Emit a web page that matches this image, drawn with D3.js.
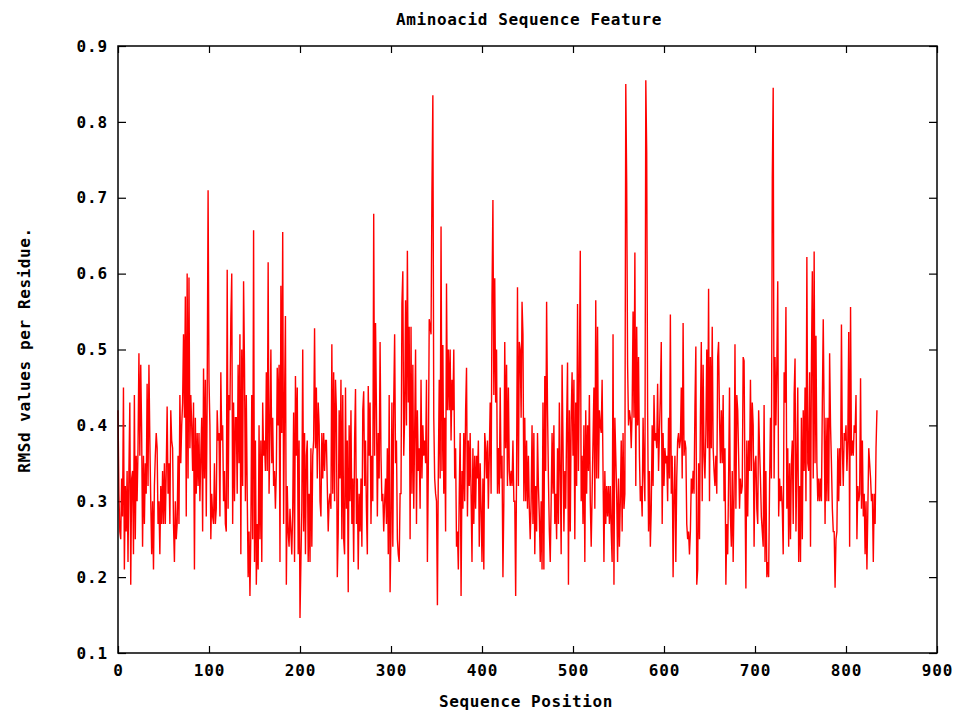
<!DOCTYPE html>
<html><head><meta charset="utf-8">
<script src="https://cdn.jsdelivr.net/npm/d3@7"></script>
<style>body{margin:0;background:#fff}svg{display:block}</style>
</head><body>
<svg id="chart" width="973" height="714"></svg>
<script>
const titleText = "Aminoacid Sequence Feature";
const xLabelText = "Sequence Position";
const yLabelText = "RMSd values per Residue.";
const xTickValues = [0, 100, 200, 300, 400, 500, 600, 700, 800, 900];
const yTickValues = [0.1, 0.2, 0.3, 0.4, 0.5, 0.6, 0.7, 0.8, 0.9];

// RMSd value per residue, residue index 0..834
const rmsdValues = [
0.42,0.31,0.26,0.25,0.33,0.28,0.45,0.21,0.32,0.26,
0.34,0.22,0.34,0.43,0.19,0.33,0.34,0.23,0.44,0.25,
0.36,0.30,0.37,0.495,0.36,0.48,0.39,0.24,0.36,0.27,
0.35,0.31,0.455,0.32,0.48,0.38,0.30,0.23,0.30,0.21,
0.32,0.36,0.39,0.37,0.27,0.30,0.23,0.32,0.27,0.34,
0.27,0.35,0.27,0.34,0.425,0.31,0.35,0.27,0.42,0.38,
0.37,0.27,0.22,0.30,0.25,0.27,0.36,0.27,0.44,0.35,
0.40,0.43,0.52,0.41,0.57,0.28,0.60,0.33,0.595,0.37,
0.44,0.40,0.34,0.43,0.21,0.41,0.31,0.39,
0.32,0.39,0.30,0.36,0.41,0.26,0.475,0.33,0.46,0.28,
0.44,0.71,0.46,0.40,0.25,0.31,0.28,0.27,0.35,0.27,
0.29,0.42,0.38,0.39,0.28,0.47,0.38,0.40,0.30,0.34,
0.27,0.26,0.605,0.29,0.44,0.42,0.54,0.60,0.27,0.43,
0.30,0.41,0.41,0.31,0.48,0.35,0.52,0.23,0.50,0.32,
0.59,0.48,0.30,0.44,0.31,0.20,0.26,0.175,0.26,0.44,
0.25,0.657,0.22,0.38,0.19,0.27,0.21,0.40,0.25,0.38,
0.22,0.43,0.36,0.38,0.34,0.47,0.34,0.615,0.31,0.39,
0.50,0.35,0.41,0.32,0.34,0.29,
0.34,0.476,0.40,0.48,0.22,0.584,0.39,0.655,0.27,0.43,
0.544,0.19,0.32,0.26,0.24,0.29,0.26,0.23,0.29,0.417,
0.22,0.465,0.36,0.45,0.23,0.38,0.146,0.22,0.29,0.50,
0.26,0.39,0.23,0.36,0.38,0.22,0.31,0.22,0.37,0.24,
0.36,0.38,0.528,0.37,0.45,0.33,0.43,0.40,0.30,0.28,
0.39,0.33,0.39,0.34,0.38,0.38,0.32,0.26,0.30,0.31,
0.29,0.507,0.31,0.47,0.30,0.46,0.42,0.20,0.26,0.42,
0.33,0.46,0.25,0.44,0.25,0.23,0.45,0.29,0.38,0.18,
0.40,0.30,
0.42,0.27,0.33,0.22,0.38,0.448,0.27,0.33,0.21,0.31,
0.26,0.33,0.24,0.42,0.445,0.32,0.38,0.29,0.23,0.452,
0.36,0.43,0.27,0.36,0.30,0.679,0.36,0.535,0.42,0.28,
0.39,0.33,0.51,0.36,0.30,0.31,0.26,0.30,0.33,0.27,
0.37,0.23,0.44,0.18,0.26,0.43,0.24,0.43,0.52,0.35,
0.38,0.25,0.23,0.22,0.31,0.31,0.56,0.603,0.36,0.41,
0.565,0.40,0.63,0.43,0.53,0.25,0.53,0.31,0.48,0.29,
0.39,0.50,0.27,0.42,0.34,0.37,0.29,0.46,0.33,0.40,
0.36,0.38,0.35,0.46,0.22,0.34,0.54,0.53,0.52,0.71,
0.835,0.41,0.33,0.31,
0.30,0.163,0.34,0.46,0.33,0.662,0.34,0.506,0.31,0.41,
0.26,0.587,0.42,0.50,0.42,0.50,0.38,0.46,0.42,0.50,
0.33,0.37,0.24,0.26,0.21,0.31,0.39,0.175,0.34,0.29,
0.39,0.30,0.42,0.476,0.28,0.38,0.32,0.39,0.31,0.22,
0.37,0.27,0.36,0.29,0.36,0.33,0.38,0.24,0.35,0.29,
0.22,0.33,0.21,0.39,0.37,0.33,0.38,0.29,0.36,0.43,
0.31,0.57,0.697,0.44,0.594,0.43,0.50,0.31,0.37,0.31,
0.45,0.33,0.36,0.20,0.30,0.51,0.37,0.48,0.32,0.45,
0.34,0.32,0.34,0.32,0.38,0.30,0.30,0.175,
0.34,0.582,0.32,0.51,0.50,0.41,0.563,0.52,0.30,0.41,
0.30,0.38,0.29,0.36,0.29,0.25,0.30,0.40,0.27,0.39,
0.23,0.32,0.26,0.39,0.32,0.28,0.22,0.30,0.21,0.43,
0.21,0.465,0.34,0.563,0.42,0.33,0.26,0.22,0.30,0.39,
0.31,0.40,0.27,0.31,0.25,0.37,0.27,0.43,0.34,0.23,
0.48,0.38,0.26,0.34,0.29,0.40,0.483,0.19,0.42,0.26,
0.41,0.47,0.36,0.46,0.25,0.43,0.32,0.56,0.34,0.47,
0.63,0.30,0.36,0.27,0.40,0.22,0.42,0.31,0.40,0.34,
0.44,0.30,0.24,0.31,0.38,0.45,0.29,0.565,
0.33,0.53,0.33,0.42,0.40,0.39,0.46,0.34,0.22,0.34,
0.27,0.32,0.28,0.32,0.27,0.32,0.26,0.22,0.52,0.19,
0.41,0.36,0.31,0.22,0.33,0.24,0.30,0.38,0.26,0.39,
0.29,0.31,0.85,0.72,0.48,0.40,0.42,0.41,0.37,0.42,
0.55,0.41,0.628,0.32,0.53,0.40,0.49,0.36,0.30,0.32,
0.28,0.41,0.34,0.30,0.855,0.76,0.42,0.26,0.34,0.24,
0.29,0.40,0.32,0.44,0.38,0.39,0.37,0.455,0.34,0.39,
0.44,0.51,0.27,0.39,0.32,0.37,0.35,0.36,0.30,0.41,
0.33,0.546,0.31,0.36,0.20,0.31,0.36,
0.22,0.33,0.38,0.39,0.37,0.38,0.45,0.33,0.535,0.36,
0.38,0.37,0.27,0.25,0.26,0.23,0.26,0.33,0.31,0.34,
0.31,0.424,0.504,0.19,0.21,0.35,0.25,0.41,0.51,0.30,
0.48,0.36,0.33,0.39,0.50,0.37,0.58,0.30,0.49,0.37,
0.53,0.37,0.34,0.32,0.36,0.31,0.49,0.51,0.41,0.35,
0.42,0.35,0.44,0.30,0.37,0.19,0.27,0.23,0.33,0.45,
0.28,0.24,0.34,0.22,0.31,0.507,0.29,0.44,0.42,0.36,
0.29,0.33,0.31,0.32,0.49,0.485,0.32,0.185,0.38,0.28,
0.38,0.34,0.46,0.34,0.43,0.40,0.24,0.35,
0.36,0.29,0.27,0.42,0.37,0.33,0.28,0.26,0.24,0.427,
0.22,0.34,0.20,0.22,0.20,0.32,0.41,0.33,0.726,0.845,
0.33,0.49,0.40,0.48,0.59,0.28,0.33,0.30,0.32,0.29,
0.23,0.47,0.43,0.556,0.29,0.37,0.24,0.35,0.25,0.35,
0.38,0.27,0.44,0.488,0.26,0.35,0.45,0.22,0.32,0.22,
0.41,0.25,0.42,0.34,0.45,0.30,0.622,0.35,0.34,0.47,
0.24,0.48,0.603,0.33,0.629,0.35,0.518,0.35,0.30,0.33,
0.30,0.33,0.30,0.43,0.54,0.41,0.27,0.41,0.30,0.41,
0.30,0.495,0.40,0.35,0.29,0.26,0.26,0.186,
0.25,0.26,0.37,0.30,0.37,0.32,0.533,0.37,0.32,0.39,
0.38,0.40,0.34,0.38,0.523,0.24,0.556,0.36,0.38,0.36,
0.40,0.39,0.44,0.25,0.32,0.30,0.31,0.462,0.29,0.38,
0.28,0.31,0.23,0.30,0.21,0.29,0.37,0.35,0.33,0.30,
0.31,0.22,0.31,0.27,0.37,0.42
];

const svg = d3.select("#chart");
const FONT = "'DejaVu Sans Mono', 'Liberation Mono', monospace";

svg.append("rect").attr("width", 973).attr("height", 714).attr("fill", "#fff");

const x = d3.scaleLinear().domain([0, 900]).range([118, 937]);
const y = d3.scaleLinear().domain([0.1, 0.9]).range([653, 46]);

function styleAxis(g) {
  g.select(".domain").remove();
  g.selectAll(".tick line").attr("stroke", "#000").attr("stroke-width", 1.2);
  g.selectAll(".tick text")
    .attr("font-family", FONT).attr("font-weight", "bold")
    .attr("font-size", 16).attr("letter-spacing", "0.9px").attr("fill", "#000");
}

svg.append("g").attr("transform", "translate(118,0)")
  .call(d3.axisLeft(y).tickValues(yTickValues).tickFormat(d3.format(".1f")).tickSize(-8).tickPadding(10))
  .call(styleAxis);
svg.append("g").attr("transform", "translate(937,0)")
  .call(d3.axisRight(y).tickValues(yTickValues).tickFormat("").tickSize(-8))
  .call(styleAxis);
svg.append("g").attr("transform", "translate(0,653)")
  .call(d3.axisBottom(x).tickValues(xTickValues).tickFormat(d3.format("d")).tickSize(-7).tickPadding(12))
  .call(styleAxis);
svg.append("g").attr("transform", "translate(0,46)")
  .call(d3.axisTop(x).tickValues(xTickValues).tickFormat("").tickSize(-7))
  .call(styleAxis);

const line = d3.line().x((d, i) => x(i)).y(d => y(d));
svg.append("path").datum(rmsdValues)
  .attr("d", line).attr("fill", "none").attr("stroke", "#ff0000")
  .attr("stroke-width", 1.4).attr("stroke-linejoin", "miter");

svg.append("rect").attr("x", 118).attr("y", 46).attr("width", 937 - 118).attr("height", 653 - 46)
  .attr("fill", "none").attr("stroke", "#000").attr("stroke-width", 1.5);

function label(t, xx, yy, rot) {
  const el = svg.append("text").text(t)
    .attr("font-family", FONT).attr("font-weight", "bold").attr("font-size", 16)
    .attr("letter-spacing", "0.6px").attr("text-anchor", "middle").attr("fill", "#000");
  if (rot) el.attr("transform", `translate(${xx},${yy}) rotate(-90)`);
  else el.attr("x", xx).attr("y", yy);
}
label(titleText, 529, 25);
label(xLabelText, 526, 707);
label(yLabelText, 30, 350, true);
</script>
</body></html>
